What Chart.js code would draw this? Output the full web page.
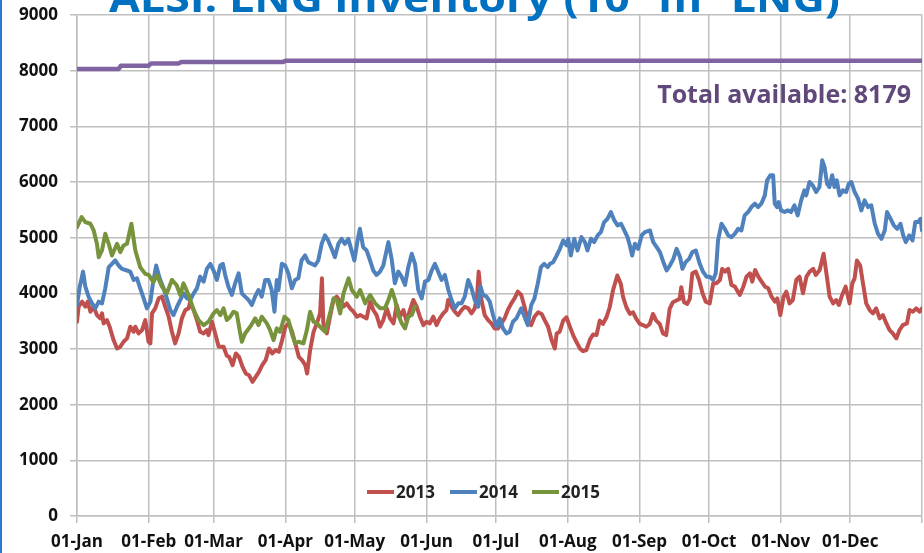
<!DOCTYPE html>
<html><head><meta charset="utf-8">
<script src="https://cdn.jsdelivr.net/npm/chart.js@4/dist/chart.umd.min.js"></script>
<style>html,body{margin:0;padding:0;background:#fff;overflow:hidden}#wrap{position:relative;width:924px;height:553px}canvas{display:block}</style>
</head><body><div id="wrap"><canvas id="c" width="924" height="553"></canvas></div>
<script>
const titleText = 'ALSI: LNG inventory (10³ m³ LNG)';
const totalText = 'Total available: 8179';
const monthDays = [0,31,59,90,120,151,181,212,243,273,304,334,365];
const monthLabels = ['01-Jan','01-Feb','01-Mar','01-Apr','01-May','01-Jun','01-Jul','01-Aug','01-Sep','01-Oct','01-Nov','01-Dec',''];
const seriesNames = ['2013','2014','2015'];

const days2013 = [0,0.7,2.2,3.6,4.6,5.8,7.2,8.6,10,10.8,11.5,12.9,14.1,15.8,17.3,18.7,20.1,21.6,23,24.5,25.2,26.6,28.1,29.5,30.9,31.7,32.4,33.8,35.3,36.7,38.1,39.6,41,42.4,43.9,45.3,46.8,48.2,48.9,50.4,51.8,53.2,54.7,56.1,56.8,58.3,59.7,61.2,63.3,64.7,65.7,67.2,68.6,70,71.5,72.9,74.3,75.8,77.2,78.6,80,81.5,82.9,84.3,85.8,87.2,88.6,90,91.5,92.9,94.3,95.8,97.2,98.6,99.4,100.7,102.2,103.6,105,105.8,106.4,107.9,109.3,110.8,112.2,113.7,115.1,116.5,118,119.4,120.9,122.3,123.7,125.1,126.6,128,129.4,130.9,132.3,133.8,135.2,136.7,138.1,139.5,141,142.4,143.8,145.3,146.7,148.1,149.6,151,152.4,153.9,155.3,156.7,158.2,159.6,160.3,161.8,163.2,164.6,166.1,167.5,169,170.4,171.8,172.8,173.5,174.7,176.1,177.6,179,180.4,181.9,183.3,184.7,186.1,187.6,189,190.4,191.9,193.3,194.7,196.2,197.6,199.2,200.7,202.1,203.5,205,206.4,207.2,208.5,210,211.4,212.9,214.3,215.7,217.2,218.6,220,221.5,222.9,224.4,225.8,227.2,228.7,230.1,231.5,233.4,234.9,235.9,237.3,238.8,240.2,241.6,243.1,244.5,245.9,247.4,248.8,250.2,251.7,253.1,254.5,256,257.4,258.9,260.3,261,262.2,263.6,264.7,265.8,267.3,268.7,270.2,271.6,273.3,274.8,276.2,277.7,278.7,279.9,281.3,282.7,284.2,286.3,287.8,289.2,290.7,291.7,292.9,294.3,295.7,297.2,298.6,300,301.5,302.5,303.8,305.2,306.4,307.8,309.2,310.7,312.1,313.6,315.1,316.5,318,319.1,320.8,322.5,323.7,325.1,326.6,327.9,329.1,330.5,332,333.7,334.9,335.9,336.9,338.3,339.5,340.9,342.4,343.8,345.2,346.7,348.1,349.6,351,352.4,353.9,355.3,356.7,358.5,359.6,361.1,362.5,364,365];
const values2013 = [3490,3760,3850,3760,3850,3670,3760,3610,3550,3640,3460,3520,3400,3160,3010,3040,3130,3190,3400,3310,3400,3280,3340,3520,3130,3100,3640,3730,3910,3940,3760,3580,3310,3100,3280,3550,3700,3730,3850,3700,3520,3310,3280,3340,3250,3490,3280,3040,3040,2880,2860,2710,2920,2860,2680,2560,2530,2410,2500,2590,2710,2800,3010,2920,2980,2950,3160,3400,3460,3310,3100,2860,2800,2710,2560,2980,3310,3460,3640,4270,3460,3280,3580,3880,3940,3850,3760,3820,3730,3670,3580,3610,3580,3550,3850,3700,3610,3400,3520,3730,3550,3460,3790,3580,3700,3490,3700,3880,3760,3580,3430,3490,3460,3580,3430,3550,3640,3700,3880,3760,3670,3610,3700,3760,3730,3640,3730,3940,4390,3880,3610,3520,3460,3370,3370,3460,3550,3700,3820,3910,4030,3970,3760,3520,3430,3580,3660,3630,3510,3400,3160,3010,3280,3310,3510,3570,3400,3250,3130,3010,2960,2980,3160,3260,3250,3510,3450,3570,3750,4050,4320,4170,3930,3750,3630,3660,3540,3450,3430,3400,3450,3630,3510,3450,3280,3250,3720,3840,3870,3900,4110,3840,3810,3900,4360,4390,4240,4000,3850,3820,4180,4180,4240,4440,4390,4440,4150,4120,3970,4120,4300,4360,4210,4420,4300,4210,4120,4090,3940,3850,3910,3610,3940,4030,3820,3880,4240,4300,4000,4300,4390,4440,4330,4420,4710,4360,3940,3820,3880,3790,3970,4120,3820,4180,4270,4590,4500,4180,3820,3700,3640,3730,3550,3610,3460,3340,3280,3190,3340,3430,3460,3700,3670,3730,3670,3730];

const days2014 = [0,1.2,2.6,3.6,5,6.5,7.9,9.4,10.8,12.2,13.7,15.1,16.5,18,19.4,21.6,23,24.5,25.9,27.3,28.8,30.2,31.7,32.8,34.2,35.7,37.4,38.8,40.3,41.7,43.2,44.6,46,47.5,48.9,50.4,51.8,53.2,54.7,56.1,57.6,59,60.4,61.9,63,64,65.4,66.9,68.3,69.8,71.2,72.6,74.1,75.5,76.9,78.4,79.8,81.3,82.7,84.1,85.3,86.3,87,88.5,89.9,91.3,92.8,94.2,95.6,97,98.5,99.9,101.4,102.8,104.2,105.7,107.1,108.5,110,111.4,112.9,114.3,115.7,117.2,118.6,119.8,121.2,122.2,123.6,125.1,126.6,128,129.4,130.9,132.3,134.5,135.9,137.3,138.8,140.2,141.7,143.1,144.6,146,147.4,148.9,150.3,151.8,153.2,154.6,156,157.5,158.9,160.4,161.8,163.2,164.7,166.1,167.5,169,170.4,171.8,173.3,174.3,175.4,176.9,178.3,179.7,181.2,182.6,184,185.5,186.9,188.3,189.8,191.2,191.9,193.3,194.7,196.2,197.6,199,200.4,201.8,203.3,204.3,205.7,207.2,208.6,210,211.5,212.2,213.3,214.8,216.2,217.9,219.4,220.5,222,223.4,224.9,226.3,227.7,229.2,230.6,232.1,233.5,235,236.4,237.8,238.8,239.8,241,242.4,243.9,245.3,247.5,248.9,250.4,251.8,253.3,254.7,256.1,257.6,259,260.5,261.5,262.9,264.4,265.8,267.3,269,270.4,271.9,273.3,274.8,275.9,276.9,278.4,279.8,281.3,282.7,284.1,285.6,287,288.4,289.9,291.3,292.8,294.2,295.6,297.1,298.1,299.5,300.7,301.4,302.4,303.1,304.1,305.6,307,308.4,309.9,311.3,312.8,314.2,315,316.4,317.8,319.3,320.7,321.9,322.9,324,325,326.2,327.2,328.2,329.4,330.8,332.2,333.4,334.5,335.9,337.4,338.8,340.2,341.7,343.1,344.6,346,347.5,348.9,349.9,351.4,352.8,354.3,355.7,356.9,358,359.5,360.9,362.1,363.4,364.4,365];
const values2014 = [3790,4120,4390,4120,3940,3820,3730,3850,3820,4090,4470,4530,4590,4500,4440,4410,4390,4240,4270,4090,3910,3730,3850,4180,4500,4270,4090,3910,3700,3610,3760,3880,4000,3910,3880,4000,4090,4300,4210,4440,4530,4410,4240,4500,4530,4330,4120,3970,4180,4360,4000,3940,3880,3790,3940,4060,3940,4240,4240,4060,3670,4240,4060,4530,4500,4360,4090,4240,4270,4590,4680,4560,4530,4500,4590,4890,5040,4950,4800,4650,4890,4980,4890,4980,4770,4590,4950,5160,4830,4770,4590,4410,4330,4390,4500,4920,4620,4180,4390,4300,4150,4470,4710,4530,4060,3910,4210,4240,4410,4530,4390,4240,4330,4060,3880,3730,3820,3820,3940,4240,4090,3880,3760,4120,3970,3940,3850,3610,3400,3550,3370,3280,3310,3490,3550,3670,3730,3580,3430,3790,3910,4170,4470,4530,4470,4530,4560,4680,4800,4950,4860,4980,4680,4980,4770,5010,4920,4770,4980,4920,5040,5100,5280,5340,5460,5310,5220,5250,5130,5010,4860,4680,4890,4800,5040,5100,5130,4920,4830,4740,4560,4410,4500,4620,4800,4650,4440,4560,4620,4740,4770,4530,4390,4300,4300,4240,4360,4950,5250,5160,5040,5010,5070,5160,5130,5400,5460,5550,5610,5550,5610,5760,6030,6120,6120,5610,5550,5640,5490,5460,5490,5460,5580,5400,5670,5850,5760,6000,5940,5820,5910,6390,6270,5970,5910,6120,5910,6030,5760,5850,5820,5970,6000,5820,5700,5490,5670,5550,5580,5250,5070,4980,5130,5460,5340,5220,5160,5250,5040,4920,5040,4950,5280,5280,5340,5130];

const days2015 = [0,2,3.6,5.8,7.2,8.6,9.4,10.8,12.2,13.7,15.1,17.3,18.7,20.1,21.6,23.5,25.2,27.3,29.5,31,33,34.5,36.7,38.8,41,43,44.6,46,48.2,50.4,52.5,54.7,56.8,59,60.4,61.9,63.3,64.7,66.2,67.6,69,70.5,71.2,72.6,74.8,77,78.4,79.8,82,83.4,84.9,86.3,87.7,89.6,91.3,92.8,94.2,95.7,97.8,99.3,100.7,102.2,103.6,105,107.2,109.3,110.8,112.2,113.7,115.1,117.3,118.7,120.9,122.3,124.5,126.6,128.8,131,133,134.5,136,137.4,138.8,140.3,141.7,143.1,144.6,146];
const values2015 = [5190,5370,5280,5250,5130,4890,4650,4770,5070,4890,4680,4890,4740,4860,4890,5250,4770,4470,4350,4330,4200,4330,4120,4000,4240,4150,3970,4180,3970,3700,3520,3430,3490,3640,3700,3610,3730,3520,3580,3670,3640,3280,3130,3280,3400,3550,3430,3580,3460,3340,3160,3370,3310,3580,3520,3280,3100,3130,3100,3340,3670,3490,3460,3400,3310,3640,3910,3880,3640,4000,4270,4060,3940,4060,3820,3970,3820,3730,3730,3880,4060,3880,3610,3460,3370,3580,3610,3760];

const daysTotal = [0,18,19,31,32,44,45,89,90,365];
const valuesTotal = [8030,8030,8090,8090,8130,8130,8155,8155,8179,8179];

const colors = {r:'#C0504D', b:'#4F81BD', g:'#77933C', p:'#8064A2'};
const pts = (d,v)=>d.map((x,i)=>({x:x,y:v[i]}));
const FONT = '"Open Sans", "Liberation Sans", sans-serif';

const overlay = {
  id:'overlay',
  afterDraw(chart){
    const ctx = chart.ctx;
    ctx.save();
    ctx.fillStyle = '#2C78D4';
    ctx.fillRect(0,0,2,553);
    ctx.font = 'bold 40px ' + FONT;
    ctx.fillStyle = '#0070C0';
    ctx.textBaseline = 'alphabetic';
    const tw = ctx.measureText(titleText).width;
    ctx.translate(109, 12);
    ctx.scale(731/tw, 1);
    ctx.textAlign = 'left';
    ctx.fillText(titleText, 0, 0);
    ctx.restore();
    ctx.save();
    ctx.font = 'bold 25px ' + FONT;
    ctx.fillStyle = '#60497A';
    ctx.textAlign = 'right';
    ctx.textBaseline = 'middle';
    ctx.fillText(totalText, 911, 96);
    ctx.font = 'bold 17px ' + FONT;
    ctx.textAlign = 'left';
    const items = chart.data.datasets.filter(d=>seriesNames.includes(d.label));
    const starts = [367, 450, 532];
    items.forEach((d,i)=>{
      const x = starts[i], y = 492;
      ctx.strokeStyle = d.borderColor;
      ctx.lineWidth = 4;
      ctx.beginPath(); ctx.moveTo(x,y); ctx.lineTo(x+27,y); ctx.stroke();
      ctx.fillStyle = '#222';
      ctx.fillText(d.label, x+29, y+1);
    });
    ctx.restore();
  }
};

new Chart(document.getElementById('c'), {
  type:'line',
  data:{datasets:[
    {label:'Total', data:pts(daysTotal,valuesTotal), borderColor:colors.p, borderWidth:4.5, pointRadius:0, order:4},
    {label:seriesNames[0], data:pts(days2013,values2013), borderColor:colors.r, borderWidth:4, pointRadius:0, order:3},
    {label:seriesNames[1], data:pts(days2014,values2014), borderColor:colors.b, borderWidth:4, pointRadius:0, order:2},
    {label:seriesNames[2], data:pts(days2015,values2015), borderColor:colors.g, borderWidth:4, pointRadius:0, order:1}
  ]},
  options:{
    responsive:false, animation:false, devicePixelRatio:1,
    layout:{padding:{top:15,right:2,left:0,bottom:0}},
    plugins:{legend:{display:false}, tooltip:{enabled:false}},
    elements:{line:{tension:0, borderJoinStyle:'round', borderCapStyle:'round'}},
    scales:{
      x:{type:'linear', min:0, max:365,
        afterBuildTicks(s){ s.ticks = monthDays.map(v=>({value:v})); },
        afterFit(s){ s.height = 37; s.paddingLeft = 0; s.paddingRight = 0; },
        grid:{color:'#BFBFBF', lineWidth:1.5, tickLength:7, drawTicks:true},
        border:{color:'#BFBFBF', width:1.5},
        ticks:{autoSkip:false, maxRotation:0, padding:9, color:'#111',
          font:{family:FONT, size:17, weight:'bold'},
          callback(v){ const i = monthDays.indexOf(v); return i>=0 ? monthLabels[i] : ''; }}
      },
      y:{min:0, max:9000,
        afterFit(s){ s.width = 77; s.paddingTop = 0; s.paddingBottom = 0; },
        grid:{color:'#BFBFBF', lineWidth:1.5, tickLength:7},
        border:{color:'#BFBFBF', width:1.5},
        ticks:{stepSize:1000, padding:12, color:'#111',
          font:{family:FONT, size:17, weight:'bold'},
          callback(v){ return String(v); }}
      }
    }
  },
  plugins:[overlay]
});
</script>
</body></html>
